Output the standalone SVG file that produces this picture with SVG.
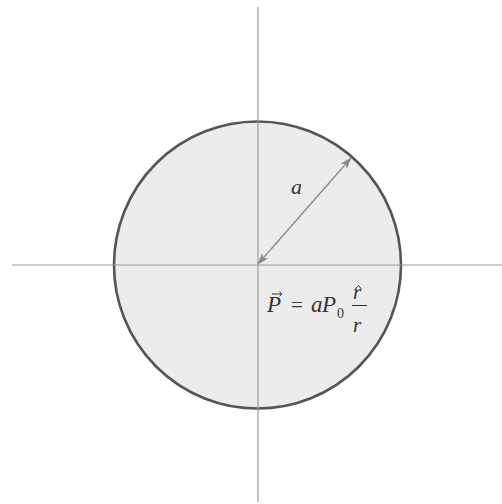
<svg xmlns="http://www.w3.org/2000/svg" width="502" height="504" viewBox="0 0 502 504">
  <defs>
    <style>
      .axis { stroke: #9a9a9a; stroke-width: 1.2; fill: none; }
      .dim { stroke: #8a8a8a; stroke-width: 1.3; fill: none; }
      .m { font-family: "Liberation Serif", "Times New Roman", serif; fill: #333; }
      .it { font-style: italic; }
      .acc { stroke: #333; stroke-width: 1; fill: none; }
    </style>
    <marker id="ah" viewBox="0 0 12 8" refX="11" refY="4" markerWidth="12" markerHeight="8" markerUnits="userSpaceOnUse" orient="auto-start-reverse">
      <path d="M0,0 L12,4 L0,8 L3,4 Z" fill="#8a8a8a"/>
    </marker>
  </defs>
  <rect width="502" height="504" fill="#ffffff"/>
  <g id="sphere">
    <circle cx="257.5" cy="265" r="143.5" fill="#ececec" stroke="#555" stroke-width="2.6"/>
  </g>
  <g id="connectors">
    <line class="axis" x1="12" y1="265" x2="502" y2="265"/>
    <line class="axis" x1="258" y1="7" x2="258" y2="502"/>
    <line class="dim" x1="258" y1="264" x2="351" y2="158" marker-start="url(#ah)" marker-end="url(#ah)"/>
  </g>
  <g id="label-a">
    <text class="m it" x="291" y="194" font-size="22">a</text>
  </g>
  <g id="formula">
    <text class="m it" x="267" y="312" font-size="23">P</text>
    <path class="acc" d="M272 294 L282 294 M279.5 291.8 L282 294 L279.5 296.2"/>
    <text class="m" x="291" y="312" font-size="21">=</text>
    <text class="m it" x="311" y="312" font-size="23">a</text>
    <text class="m it" x="322" y="312" font-size="23">P</text>
    <text class="m" x="337" y="318" font-size="14">0</text>
    <text class="m it" x="353" y="299" font-size="21">r</text>
    <path class="acc" d="M355.5 289 L358.5 285.5 L361.5 289"/>
    <line x1="352" y1="305.5" x2="367" y2="305.5" stroke="#333" stroke-width="1"/>
    <text class="m it" x="353" y="332" font-size="21">r</text>
  </g>
</svg>
